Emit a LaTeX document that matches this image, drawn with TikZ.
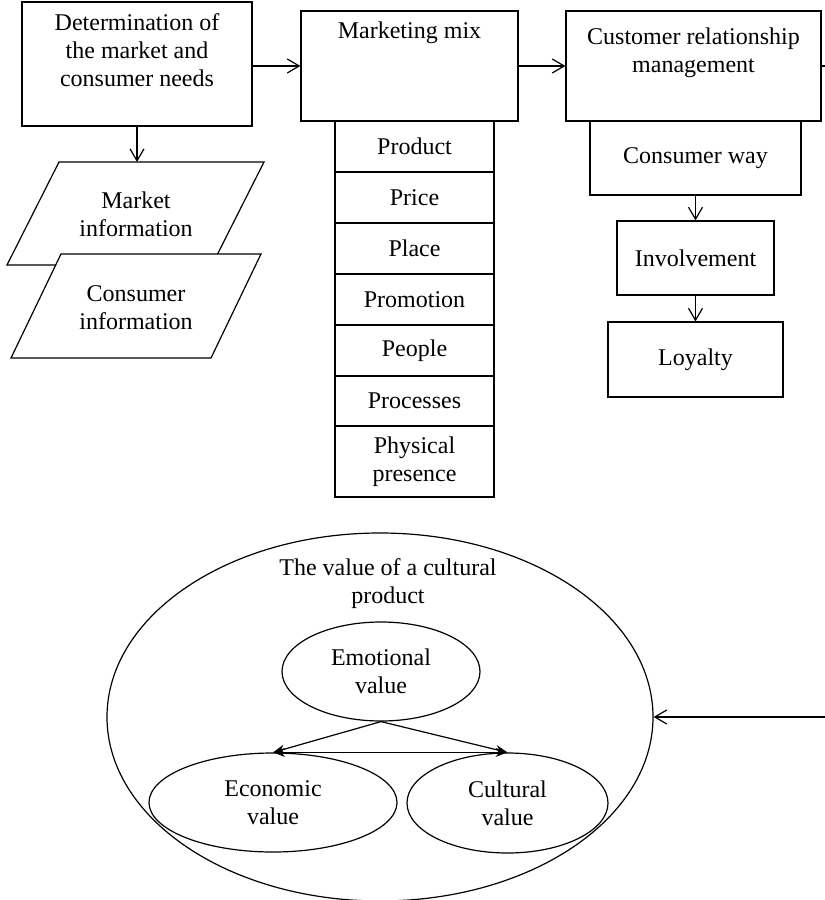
\documentclass[tikz,border=0pt]{standalone}
\usepackage{fontspec}
\setmainfont{Liberation Serif}
\usetikzlibrary{arrows.meta,fit,shapes.geometric}
\begin{document}
\begin{tikzpicture}[x=0.5pt,y=-0.5pt,line width=0.6pt,
  every node/.style={font=\fontsize{12}{14}\selectfont, align=center},
  box/.style={draw, inner sep=0pt, fill=white},
  txt/.style={inner sep=0pt},
  ell/.style={draw, ellipse, inner sep=0pt},
  arr/.style={-{Straight Barb[length=6pt,width=7pt]}},
  stl/.style={-{Stealth[length=6pt,width=4.5pt]}},
  stltwo/.style={{Stealth[length=6pt,width=4.5pt]}-{Stealth[length=6pt,width=4.5pt]}}]
\useasboundingbox (0,0) rectangle (825,900);

% top boxes
\node[box, fit={(22,2) (252,126)}] (b1) {};
\node[txt] (b1t) at (137,50) {Determination of\\the market and\\consumer needs};
\node[box, fit={(301,11) (518,121)}] (b2) {};
\node[txt] (b2t) at (409.5,33) {Marketing mix};
\node[box, fit={(566,11) (821,121)}] (b3) {};
\node[txt] (b3t) at (693.5,53) {Customer relationship\\management};

% marketing mix stack
\node[box, fit={(335,121) (494,172)}] (m1) {};
\node[txt] at (m1.center) {Product};
\node[box, fit={(335,172) (494,223)}] (m2) {};
\node[txt] at (m2.center) {Price};
\node[box, fit={(335,223) (494,274)}] (m3) {};
\node[txt] at (m3.center) {Place};
\node[box, fit={(335,274) (494,325)}] (m4) {};
\node[txt] at (m4.center) {Promotion};
\node[box, fit={(335,325) (494,376)}] (m5) {};
\node[txt] at (m5.center) {People};
\node[box, fit={(335,376) (494,426)}] (m6) {};
\node[txt] at (m6.center) {Processes};
\node[box, fit={(335,426) (494,497)}] (m7) {};
\node[txt] at (m7.center) {Physical\\presence};

% CRM chain
\node[box, fit={(590,121) (801,195)}] (c1) {};
\node[txt] at (c1.center) {Consumer way};
\node[box, fit={(617,221) (774,295)}] (c2) {};
\node[txt] at (c2.center) {Involvement};
\node[box, fit={(608,322) (783,397)}] (c3) {};
\node[txt] at (c3.center) {Loyalty};

% parallelograms
\draw[fill=white] (59,162) -- (264,162) -- (212,265) -- (7,265) -- cycle;
\node[txt] (mi) at (136,214) {Market\\information};
\draw[fill=white] (61,254) -- (261,254) -- (211,358) -- (11,358) -- cycle;
\node[txt] (ci) at (136,307.5) {Consumer\\information};
\coordinate (mitop) at (137,162);

% top connectors
\draw[arr] (b1.south) -- (mitop);
\draw[arr] (b1.east |- b2.west) -- (b2.west);
\draw[arr] (b2.east) -- (b3.west);
\coordinate (rout) at (825,66);
\draw (b3.east) -- (rout);
\draw[arr] (c1.south) -- (c2.north);
\draw[arr] (c2.south) -- (c3.north);

% value ellipses
\node[ell, minimum width=273pt, minimum height=184pt] (big) at (380,717) {};
\node[txt] (bigt) at (388,584) {The value of a cultural\\product};
\node[ell, minimum width=99pt, minimum height=49.5pt] (emo) at (381,671.5) {Emotional\\value};
\node[ell, minimum width=124pt, minimum height=49.5pt] (eco) at (273,802.5) {Economic\\value};
\node[ell, minimum width=100.5pt, minimum height=50pt] (cul) at (507.5,803) {Cultural\\value};

\draw[stl] (emo.south) -- (eco.north);
\draw[stl] (emo.south) -- (cul.north);
\draw[stltwo] (eco.north) -- (cul.north);

\coordinate (rin) at (825,717);
\draw[arr] (rin) -- (big.east);
\end{tikzpicture}
\end{document}
